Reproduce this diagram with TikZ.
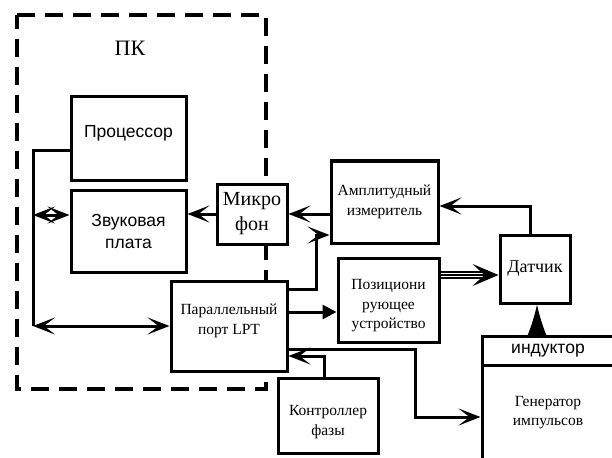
\documentclass[tikz,border=0pt]{standalone}
\usepackage{fontspec}
\setmainfont{Liberation Serif}
\setsansfont{Liberation Sans}
\usetikzlibrary{arrows.meta,calc}
\begin{document}
\begin{tikzpicture}[x=1pt,y=-1pt,
  box/.style={draw,line width=3pt,fill=white,align=center,inner sep=0pt,
    font=\fontsize{15.5}{19.5}\selectfont},
  sbox/.style={box,font=\sffamily\fontsize{17.5}{22}\selectfont},
  txt/.style={align=center,inner sep=0pt,font=\fontsize{15.5}{19.5}\selectfont},
  conn/.style={line width=3pt},
  arr/.style={conn,-{Stealth[length=22pt,width=17pt,inset=11pt]}},
  darr/.style={conn,{Stealth[length=22pt,width=17pt,inset=11pt]}-{Stealth[length=22pt,width=17pt,inset=11pt]}},
  farr/.style={conn,-{Triangle[length=14pt,width=14pt]}},
  pkbox/.style={line width=4pt,dash pattern=on 18pt off 10pt}]
\useasboundingbox (0,0) rectangle (612,457);
\clip (0,0) rectangle (612,457);
\fill[white] (0,0) rectangle (612,457);
% PC dashed frame
\draw[pkbox] (17,15) -- (266,15) -- (266,389) -- (17,389) -- cycle;
\node[font=\fontsize{22}{26}\selectfont] (pk) at (130,48) {ПК};
% boxes
\node[sbox,minimum width=115,minimum height=83] (proc) at (128.5,138.5) {};
\node[txt,font=\sffamily\fontsize{17.5}{22}\selectfont] (proct) at (128.5,133) {Процессор};
\node[sbox,minimum width=115,minimum height=82] (zvuk) at (128.5,231) {Звуковая\\плата};
\node[box,minimum width=70,minimum height=60,font=\fontsize{20}{25}\selectfont] (mic) at (252,214) {Микро\\фон};
\node[box,minimum width=116,minimum height=90] (lpt) at (229,326) {};
\node[txt] (lptt) at (229,321) {Параллельный\\порт LPT};
\node[box,minimum width=107,minimum height=82] (amp) at (384.5,202) {Амплитудный\\измеритель};
\node[box,minimum width=101,minimum height=84] (pos) at (388.5,300) {};
\node[txt] (post) at (388.5,306) {Позициони\\рующее\\устройство};
\node[box,minimum width=70,minimum height=68,font=\fontsize{18}{22}\selectfont] (dat) at (535,269) {Датчик};
\node[box,minimum width=100,minimum height=75] (ctrl) at (328,415.5) {};
\node[txt] (ctrlt) at (328,422) {Контроллер\\фазы};
\node[sbox,minimum width=132,minimum height=29] (ind) at (548,350.5) {индуктор};
\node[box,minimum width=132,minimum height=95] (gen) at (548,412.5) {Генератор\\импульсов};
% bus
\coordinate (bustop) at (33,151);
\coordinate (bus) at (33,326);
\coordinate (busz) at (33,215);
\draw[conn] (proc.west |- bustop) -- (bustop) -- (bus);
\draw[darr] (bus) -- (lpt.west);
\draw[darr] (busz) -- (busz -| zvuk.west);
% microphone
\draw[arr] (mic.west) -- (mic.west -| zvuk.east);
\draw[arr] (mic.east -| amp.west) -- (mic.east);
% LPT -> amplitude meter
\coordinate (a0) at (287,289);
\coordinate (a1) at (316,235);
\draw[arr] (a0 -| lpt.east) -- (a1 |- a0) -- (a1) -- (a1 -| amp.west);
% LPT -> positioning
\coordinate (p0) at (300,312);
\draw[farr] (p0 -| lpt.east) -- (p0 -| pos.west);
% positioning -> sensor (triple line)
\coordinate (t0) at (470,275);
\coordinate (t1) at (484,275);
\draw[line width=1.2pt] ($(t0 -| pos.east)+(0,-3)$) -- ($(t1)+(0,-3)$);
\draw[line width=1.2pt] ($(t0 -| pos.east)+(0,3)$) -- ($(t1)+(0,3)$);
\draw[line width=1.2pt,-{Stealth[length=26pt,width=22pt,inset=12pt]}] (t0 -| pos.east) -- (t0 -| dat.west);
% sensor -> amplitude meter
\coordinate (d1) at (530,206);
\draw[arr] (d1 |- dat.north) -- (d1) -- (d1 -| amp.east);
% inductor -> sensor
\coordinate (i1) at (537,330);
\draw[line width=1pt,-{Latex[length=32pt,width=20pt]}] (i1 |- ind.north) -- (i1 |- dat.south);
% phase controller -> LPT
\coordinate (c1) at (324,356);
\draw[arr] (c1 |- ctrl.north) -- (c1) -- (c1 -| lpt.east);
% LPT -> generator
\coordinate (g1) at (415,349);
\coordinate (g2) at (415,417);
\draw[arr] (g1 -| lpt.east) -- (g1) -- (g2) -- (g2 -| gen.west);
\end{tikzpicture}
\end{document}
